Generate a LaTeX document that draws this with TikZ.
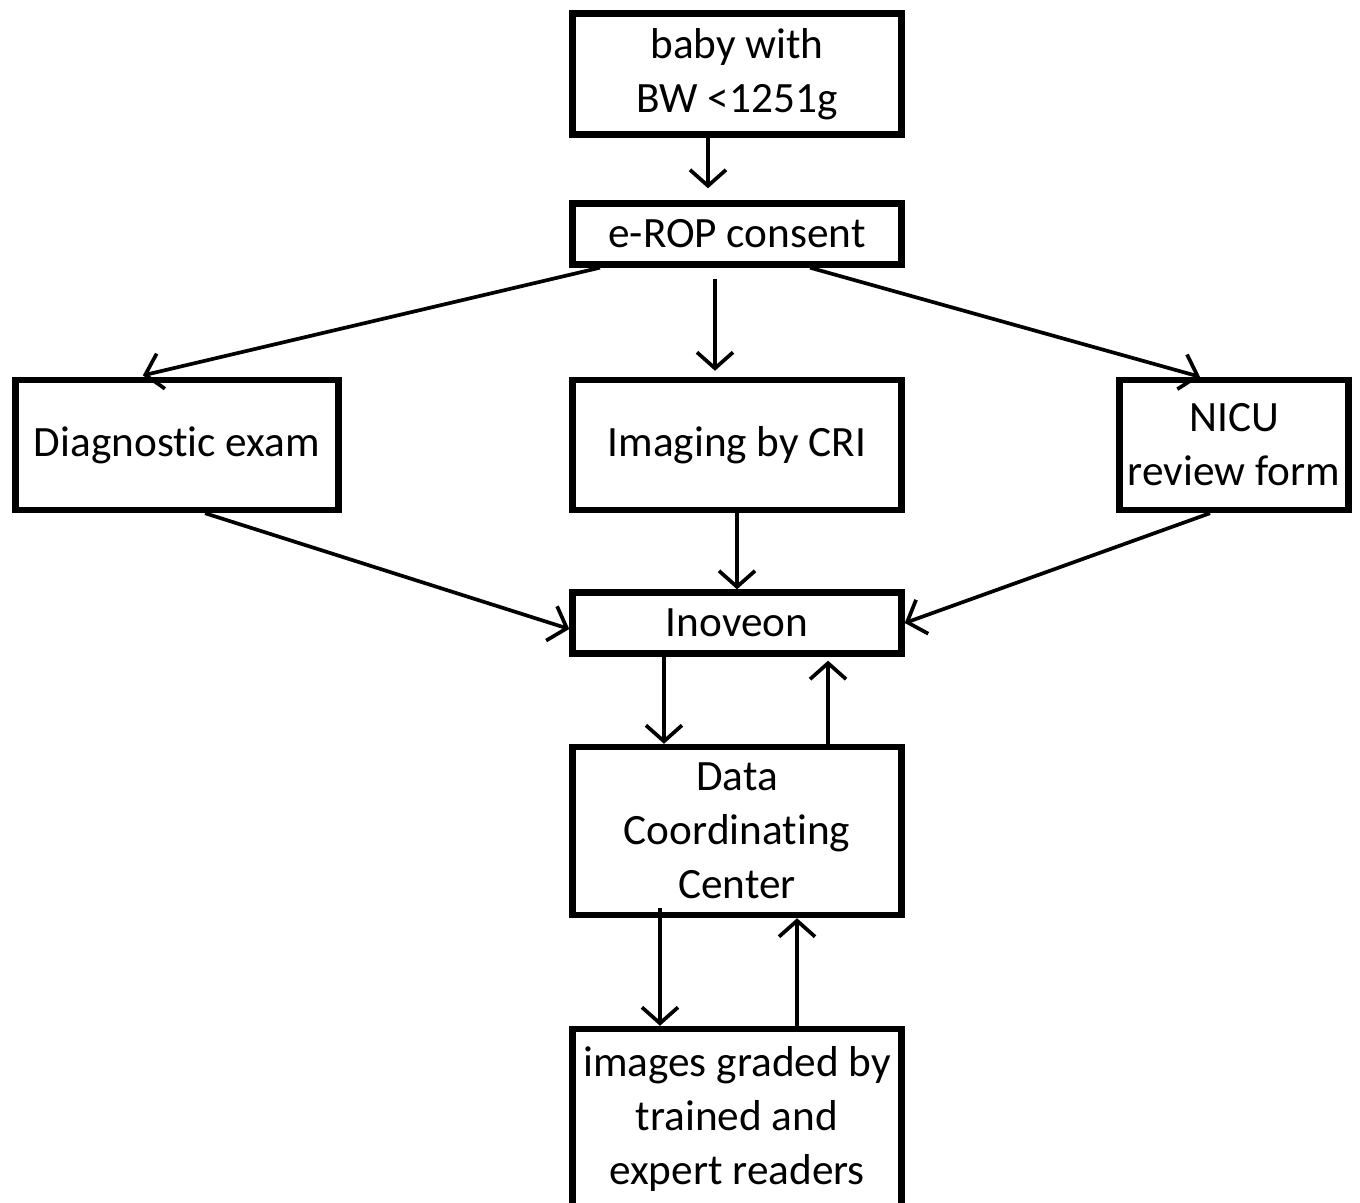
\documentclass[tikz,border=0pt]{standalone}
\usepackage{fontspec}
\setmainfont{Carlito}[Ligatures=NoCommon]
\usetikzlibrary{arrows.meta, positioning}

\begin{document}
\begin{tikzpicture}[
      x=0.01cm, y=-0.01cm,
      box/.style={rectangle, draw=black, line width=1.8pt, fill=white,
                  align=center, inner sep=0pt,
                  font=\fontsize{12.3}{15.4}\selectfont},
      arr/.style={-{Straight Barb[length=1.6mm, width=3.6mm]}, line width=1.05pt}
    ]
    \useasboundingbox (0,0) rectangle (1360,1203);

    \node[box, minimum width=3.29cm, minimum height=1.21cm] (baby) at (737,74) {baby with\\ BW <1251g};
    \node[box, minimum width=3.29cm, minimum height=0.61cm] (consent) at (737,234) {e-ROP consent};
    \node[box, minimum width=3.23cm, minimum height=1.30cm] (diag) at (177,445) {Diagnostic exam};
    \node[box, minimum width=3.29cm, minimum height=1.30cm] (imaging) at (737,445) {Imaging by CRI};
    \node[box, minimum width=2.29cm, minimum height=1.30cm] (nicu) at (1234,445) {NICU\\ review form};
    \node[box, minimum width=3.29cm, minimum height=0.61cm] (inoveon) at (737,623) {Inoveon};
    \node[box, minimum width=3.29cm, minimum height=1.68cm] (dcc) at (737,831) {Data\\ Coordinating\\ Center};
    \node[box, minimum width=3.29cm, minimum height=1.80cm] (graded) at (737,1119) {images graded by\\ trained and\\ expert readers};

    \draw[arr, shorten >=0.12cm] ([xshift=-0.29cm]baby.south) -- ([xshift=-0.29cm]consent.north);
    \draw[arr, shorten >=0.06cm] ([xshift=-1.37cm]consent.south) -- ([xshift=-0.4cm]diag.north);
    \draw[arr, shorten <=0.11cm, shorten >=0.06cm] ([xshift=-0.22cm]consent.south) -- ([xshift=-0.22cm]imaging.north);
    \draw[arr] ([xshift=0.73cm]consent.south) -- ([xshift=-0.34cm]nicu.north);
    \draw[arr] ([xshift=0.28cm]diag.south) -- ([yshift=-0.06cm]inoveon.west);
    \draw[arr] (imaging.south) -- (inoveon.north);
    \draw[arr] ([xshift=-0.24cm]nicu.south) -- (inoveon.east);
    \draw[arr] ([xshift=-0.73cm]inoveon.south) -- ([xshift=-0.73cm]dcc.north);
    \draw[arr, shorten >=0.04cm] ([xshift=0.91cm]dcc.north) -- ([xshift=0.91cm]inoveon.south);
    \draw[arr] ([xshift=-0.77cm, yshift=0.1cm]dcc.south) -- ([xshift=-0.77cm]graded.north);
    \draw[arr] ([xshift=0.6cm]graded.north) -- ([xshift=0.6cm]dcc.south);
  \end{tikzpicture}
\end{document}
